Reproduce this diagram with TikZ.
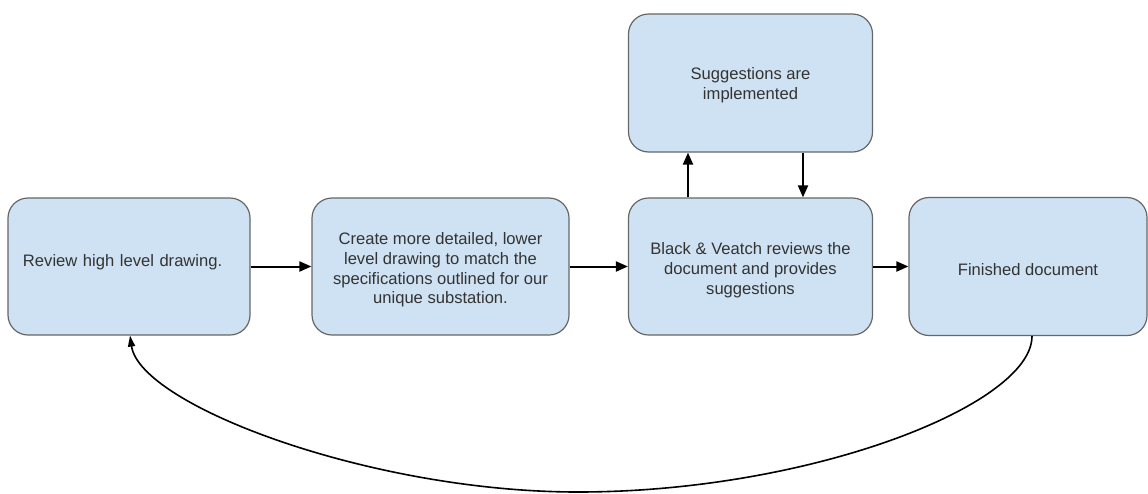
\documentclass[tikz,border=0pt]{standalone}
\usepackage{fontspec}
\setmainfont{Liberation Sans}
\usetikzlibrary{arrows.meta}
\definecolor{boxfill}{HTML}{CFE2F3}
\definecolor{boxline}{HTML}{666666}
\definecolor{txt}{HTML}{333333}
\tikzset{
  x=1pt, y=-1pt,
  stepbox/.style={draw=boxline, line width=1.2pt, fill=boxfill, rounded corners=20pt,
    minimum height=137pt, inner sep=0pt},
  steptext/.style={inner sep=0pt, align=center, text=txt, yshift=-3.5pt,
    font=\fontsize{16.6}{19.8}\selectfont},
  flow/.style={line width=2pt, -{Triangle[length=12pt,width=10pt]}},
  back/.style={line width=1.6pt, -{Triangle[length=11pt,width=7pt]}}
}
\begin{document}
\begin{tikzpicture}
\useasboundingbox (0,0) rectangle (1148,493);
\node[stepbox, minimum width=242pt,
  label={[steptext, text width=212pt, align=left, yshift=8pt]center:{Review high level drawing.}}] (b1) at (129,266.5) {};
\node[stepbox, minimum width=257pt,
  label={[steptext]center:{Create more detailed, lower\\level drawing to match the\\specifications outlined for our\\unique substation.}}] (b2) at (440.5,266.5) {};
\node[stepbox, minimum width=244pt,
  label={[steptext]center:{Black \& Veatch reviews the\\document and provides\\suggestions}}] (b3) at (750.5,266.5) {};
\node[stepbox, minimum width=238pt, minimum height=138pt,
  label={[steptext]center:{Finished document}}] (b4) at (1028,266.5) {};
\node[stepbox, minimum width=244pt, minimum height=138pt,
  label={[steptext, yshift=1.5pt]center:{Suggestions are\\implemented}}] (t) at (750.5,83) {};
\draw[flow] (b1) -- (b2);
\draw[flow] (b2) -- (b3);
\draw[flow] (b3) -- (b4);
\draw[flow] (b3.north -| 688,0) -- (t.south -| 688,0);
\draw[flow] (t.south -| 803,0) -- (b3.north -| 803,0);
\coordinate (low) at (578,492);
\draw[back] (b4.south -| 1032,0) .. controls (1032,405) and (810,492) .. (low)
  .. controls (370,492) and (140,405) .. (b1.south -| 130,0);
\end{tikzpicture}
\end{document}
